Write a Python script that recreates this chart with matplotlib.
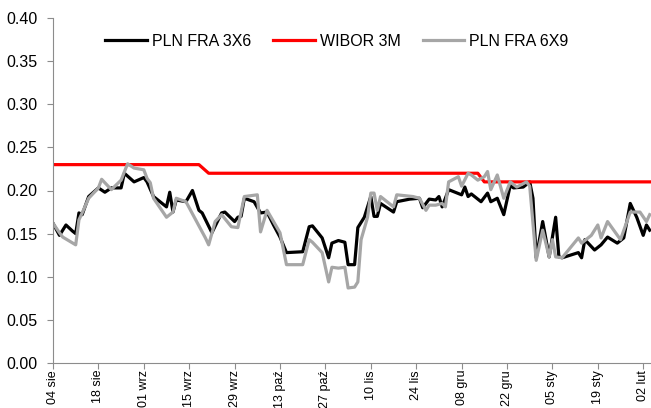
import numpy as np
import matplotlib.pyplot as plt

plt.rcParams['font.family'] = ['Liberation Sans', 'DejaVu Sans']

# days counted from 04 sie (2020-08-04)
fra36_days = [0, 2, 4, 6, 7, 8, 9, 11, 14, 16, 18, 21, 22, 25, 28, 29, 31, 35, 36, 37,
              38, 41, 43, 45, 46, 49, 52, 53, 56, 57, 58, 59, 62, 64, 66, 68, 70, 72, 77, 79,
              80, 83, 85, 86, 88, 90, 91, 93, 94, 96, 98, 99, 100, 101, 105, 106, 110, 113, 114, 116,
              118, 119, 120, 122, 126, 127, 128, 129, 132, 134, 135, 137, 139, 141, 142, 145, 147, 148, 149, 151,
              153, 155, 156, 157, 162, 163, 164, 167, 169, 171, 174, 176, 178, 180, 182, 183, 184]
fra36 = [0.162, 0.148, 0.160, 0.153, 0.150, 0.174, 0.172, 0.193, 0.203, 0.198, 0.203, 0.203, 0.220, 0.210, 0.215, 0.210, 0.193, 0.181, 0.198, 0.175,
         0.189, 0.187, 0.200, 0.177, 0.174, 0.151, 0.174, 0.175, 0.164, 0.169, 0.170, 0.191, 0.187, 0.174, 0.175, 0.160, 0.146, 0.128, 0.129, 0.158,
         0.159, 0.145, 0.122, 0.139, 0.142, 0.140, 0.114, 0.114, 0.157, 0.169, 0.193, 0.170, 0.170, 0.185, 0.175, 0.187, 0.190, 0.191, 0.180, 0.190,
         0.189, 0.193, 0.181, 0.201, 0.195, 0.204, 0.193, 0.196, 0.187, 0.197, 0.187, 0.191, 0.172, 0.206, 0.203, 0.204, 0.210, 0.191, 0.122, 0.164,
         0.123, 0.169, 0.123, 0.122, 0.128, 0.122, 0.143, 0.131, 0.137, 0.146, 0.139, 0.145, 0.185, 0.169, 0.148, 0.160, 0.154]

fra69_days = [0, 2, 3, 7, 8, 9, 11, 14, 15, 18, 21, 23, 25, 28, 29, 30, 31, 35, 37, 38,
              41, 44, 47, 48, 50, 52, 55, 57, 59, 63, 64, 66, 68, 70, 72, 77, 79, 80, 83, 85,
              86, 88, 90, 91, 93, 94, 95, 97, 98, 99, 100, 101, 105, 106, 111, 113, 115, 116, 118, 120,
              121, 122, 125, 126, 128, 129, 131, 133, 134, 135, 137, 139, 141, 143, 146, 147, 149, 151, 153, 154,
              155, 157, 162, 163, 166, 168, 169, 171, 175, 178, 181, 183, 184]
fra69 = [0.162, 0.151, 0.146, 0.137, 0.166, 0.174, 0.191, 0.203, 0.213, 0.201, 0.212, 0.231, 0.226, 0.224, 0.214, 0.209, 0.191, 0.169, 0.175, 0.191,
         0.187, 0.166, 0.145, 0.137, 0.164, 0.172, 0.158, 0.157, 0.193, 0.195, 0.152, 0.177, 0.164, 0.151, 0.114, 0.114, 0.143, 0.140, 0.128, 0.094,
         0.111, 0.110, 0.111, 0.087, 0.088, 0.094, 0.143, 0.169, 0.197, 0.197, 0.177, 0.193, 0.181, 0.195, 0.193, 0.191, 0.177, 0.183, 0.183, 0.185,
         0.181, 0.210, 0.216, 0.205, 0.220, 0.218, 0.212, 0.216, 0.222, 0.201, 0.218, 0.191, 0.210, 0.204, 0.210, 0.205, 0.119, 0.154, 0.123, 0.143,
         0.123, 0.122, 0.145, 0.139, 0.148, 0.160, 0.145, 0.164, 0.143, 0.175, 0.175, 0.164, 0.172]

wibor_days = [0, 45, 48, 131, 133, 184]
wibor = [0.23, 0.23, 0.22, 0.22, 0.21, 0.21]

tick_labels = ["04 sie", "18 sie", "01 wrz", "15 wrz", "29 wrz", "13 paź", "27 paź",
               "10 lis", "24 lis", "08 gru", "22 gru", "05 sty", "19 sty", "02 lut"]

fig = plt.figure(figsize=(6.51, 4.08), dpi=100)
ax = fig.add_axes([53/651, 45/408, 598/651, 345/408])

ax.plot(fra36_days, fra36, color='black', lw=2.3, label='PLN FRA 3X6')
ax.plot(wibor_days, wibor, color='#ff0000', lw=2.3, label='WIBOR 3M')
ax.plot(fra69_days, fra69, color='#a6a6a6', lw=2.3, label='PLN FRA 6X9')

ax.set_xlim(0, 184.4)
ax.set_ylim(0, 0.40)
ax.set_yticks(np.arange(0, 0.401, 0.05))
ax.set_yticklabels(['%.2f' % v for v in np.arange(0, 0.401, 0.05)], fontsize=11.5)
ax.set_xticks(np.arange(len(tick_labels)) * 14)
ax.set_xticklabels(tick_labels, rotation=90, fontsize=9)

for s in ['top', 'right']:
    ax.spines[s].set_visible(False)
for s in ['left', 'bottom']:
    ax.spines[s].set_color('#8c8c8c')
ax.tick_params(axis='both', direction='out', length=4, color='#8c8c8c')
ax.tick_params(axis='y', pad=7)
ax.tick_params(axis='x', pad=1)

ax.legend(loc='center', bbox_to_anchor=(337/651, 1 - 41/408), bbox_transform=fig.transFigure,
          ncol=3, frameon=False, fontsize=11.5, handlelength=2.6, columnspacing=1.4, handletextpad=0.3)

fig.savefig('out.png', dpi=100)
